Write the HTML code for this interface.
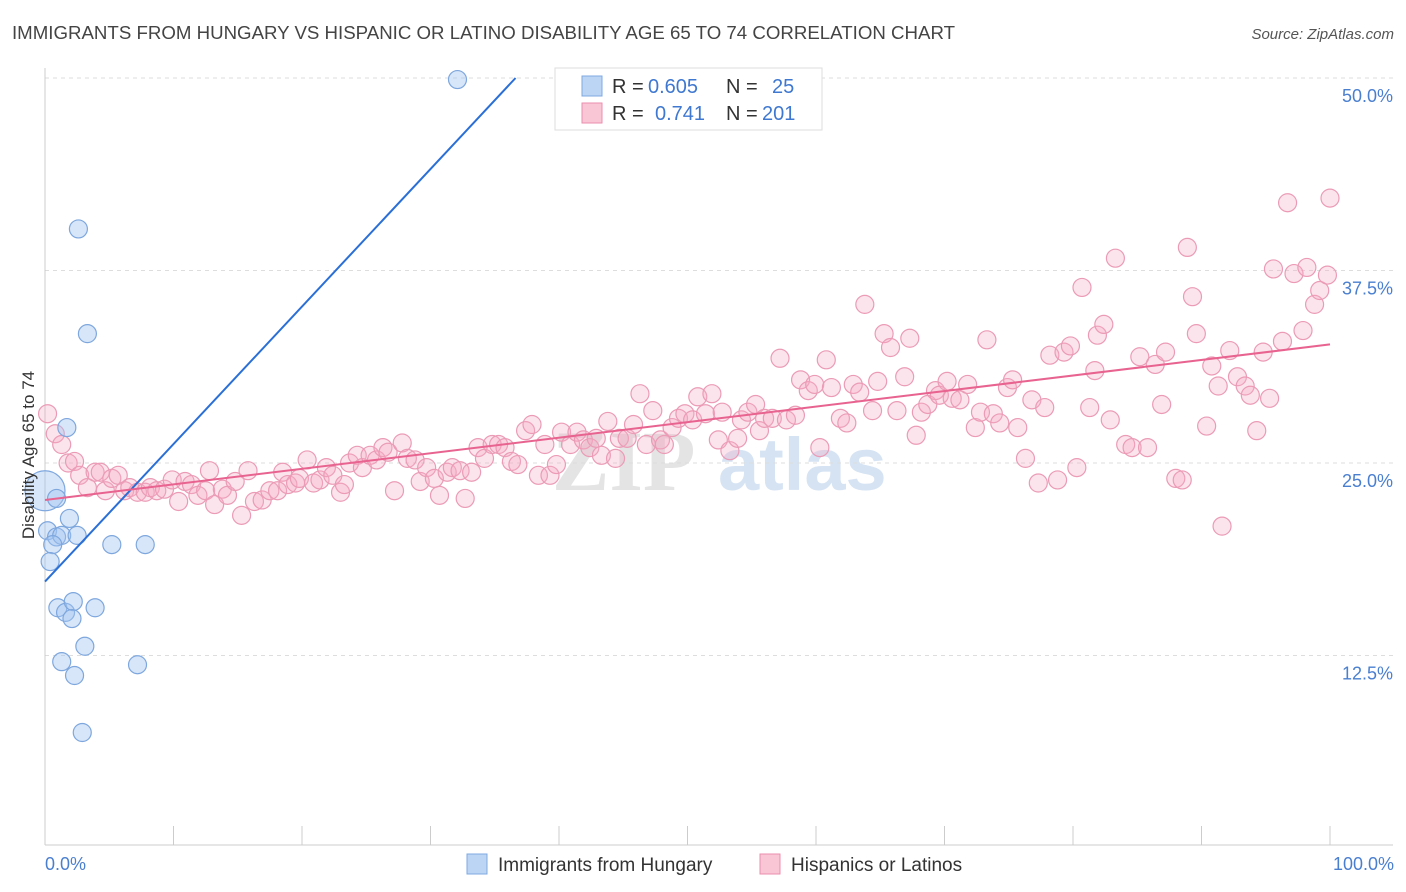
<!DOCTYPE html>
<html><head><meta charset="utf-8">
<style>
body{margin:0;background:#fff;font-family:"Liberation Sans",sans-serif;}
svg{display:block}
</style></head>
<body>
<svg id="chart" width="1406" height="892">
<text x="12" y="39" font-size="18" fill="#444" textLength="943" lengthAdjust="spacingAndGlyphs">IMMIGRANTS FROM HUNGARY VS HISPANIC OR LATINO DISABILITY AGE 65 TO 74 CORRELATION CHART</text>
<text x="1394" y="39" font-size="15" fill="#555" font-style="italic" text-anchor="end">Source: ZipAtlas.com</text>
<g>
<text x="552" y="490" font-size="86" font-family="Liberation Serif,serif" fill="#e4e4e4" font-weight="bold">ZIP</text>
<text x="718" y="490" font-size="74" fill="#d6e3f3" font-weight="bold">atlas</text>
</g>
<g id="grid"></g>
<g id="axes"></g>
<g id="pts"></g>
<g id="lines"></g>
<text transform="translate(34,455) rotate(-90)" font-size="17" fill="#333" text-anchor="middle">Disability Age 65 to 74</text>
<text x="45" y="870" font-size="18" fill="#4a7fd0">0.0%</text>
<text x="1394" y="870" font-size="18" fill="#4a7fd0" text-anchor="end">100.0%</text>
<g>
<rect x="555" y="68" width="267" height="62" fill="#fff" stroke="#ddd"/>
<rect x="582" y="76" width="20" height="20" fill="#bcd5f5" stroke="#7fa9e0"/>
<rect x="582" y="103" width="20" height="20" fill="#f9c6d6" stroke="#eb8fae"/>
<text x="612" y="93" font-size="20" fill="#333">R =</text>
<text x="648" y="93" font-size="20" fill="#3f78d0">0.605</text>
<text x="726" y="93" font-size="20" fill="#333">N =</text>
<text x="772" y="93" font-size="20" fill="#3f78d0">25</text>
<text x="612" y="120" font-size="20" fill="#333">R =</text>
<text x="655" y="120" font-size="20" fill="#3f78d0">0.741</text>
<text x="726" y="120" font-size="20" fill="#333">N =</text>
<text x="762" y="120" font-size="20" fill="#3f78d0">201</text>
</g>
<g>
<rect x="467" y="854" width="20" height="20" fill="#bcd5f5" stroke="#7fa9e0"/>
<text x="498" y="871" font-size="19" fill="#333">Immigrants from Hungary</text>
<rect x="760" y="854" width="20" height="20" fill="#f9c6d6" stroke="#eb8fae"/>
<text x="791" y="871" font-size="19" fill="#333">Hispanics or Latinos</text>
</g>
</svg>
<script>
const yTicks=[12.5,25,37.5,50];
const yTickLabels=["12.5%","25.0%","37.5%","50.0%"];
const xTicks=[0,10,20,30,40,50,60,70,80,90,100];
const blueX=[0,0.9,1.7,2.6,3.3,0.2,0.9,1.3,0.6,2.5,1.9,0.4,5.2,7.8,1.0,1.6,2.2,3.9,2.1,3.1,1.3,2.3,7.2,2.9,32.1];
const blueY=[23.2,22.7,27.3,40.2,33.4,20.6,20.2,20.3,19.7,20.3,21.4,18.6,19.7,19.7,15.6,15.3,16.0,15.6,14.9,13.1,12.1,11.2,11.9,7.5,49.9];
const blueR=[20,9,9,9,9,9,9,9,9,9,9,9,9,9,9,9,9,9,9,9,9,9,9,9,9];
const pinkX=[0.2,0.8,1.3,1.8,2.3,2.7,3.3,3.9,4.3,4.7,5.2,5.7,6.2,6.6,7.2,7.8,8.2,8.7,9.3,9.9,10.4,10.9,11.4,11.9,12.5,12.8,13.2,13.8,14.2,14.8,15.3,15.8,16.3,16.9,17.5,18.1,18.5,18.9,19.5,19.8,20.4,20.9,21.4,21.9,22.4,23.0,23.3,23.7,24.3,24.7,25.3,25.8,26.3,26.7,27.2,27.8,28.2,28.8,29.2,29.7,30.3,30.7,31.3,31.7,32.3,32.7,33.2,33.7,34.2,34.8,35.3,35.8,36.3,36.8,37.4,37.9,38.4,38.9,39.3,39.8,40.2,40.9,41.4,41.9,42.4,42.9,43.3,43.8,44.4,44.7,45.3,45.8,46.3,46.8,47.3,47.9,48.2,48.8,49.3,49.8,50.4,50.8,51.4,51.9,52.4,52.7,53.3,53.9,54.2,54.7,55.3,55.6,56.0,56.6,57.2,57.7,58.4,58.8,59.4,59.9,60.3,60.8,61.2,61.9,62.4,62.9,63.4,63.8,64.4,64.8,65.3,65.8,66.3,66.9,67.3,67.8,68.2,68.7,69.3,69.6,70.2,70.6,71.2,71.8,72.4,72.8,73.3,73.8,74.3,74.9,75.3,75.7,76.3,76.8,77.3,77.8,78.2,78.8,79.3,79.8,80.3,80.7,81.3,81.7,81.9,82.4,82.9,83.3,84.1,84.6,85.2,85.8,86.4,86.9,87.2,88.0,88.5,88.9,89.3,89.6,90.4,90.8,91.3,91.6,92.2,92.8,93.4,93.8,94.3,94.8,95.3,95.6,96.3,96.7,97.2,97.9,98.2,98.8,99.2,99.8,100.0];
const pinkY=[28.2,26.9,26.2,25.0,25.1,24.2,23.4,24.4,24.4,23.2,24.0,24.2,23.2,23.4,23.1,23.1,23.4,23.2,23.3,23.9,22.5,23.8,23.6,22.9,23.2,24.5,22.3,23.3,22.9,23.8,21.6,24.5,22.5,22.6,23.2,23.2,24.4,23.6,23.7,24.0,25.2,23.7,23.9,24.7,24.2,23.1,23.6,25.0,25.5,24.7,25.5,25.2,26.0,25.7,23.2,26.3,25.3,25.2,23.8,24.7,24.0,22.9,24.4,24.7,24.5,22.7,24.4,26.0,25.3,26.2,26.2,26.0,25.1,24.9,27.1,27.5,24.2,26.2,24.2,24.9,27.0,26.2,27.0,26.5,26.0,26.6,25.5,27.7,25.3,26.6,26.6,27.5,29.5,26.2,28.4,26.5,26.2,27.3,27.9,28.2,27.8,29.3,28.2,29.5,26.5,28.3,25.8,26.6,27.8,28.3,28.8,27.1,27.9,27.9,31.8,27.8,28.1,30.4,29.7,30.1,26.0,31.7,29.9,27.9,27.6,30.1,29.6,35.3,28.4,30.3,33.4,32.5,28.4,30.6,33.1,26.8,28.3,28.8,29.7,29.4,30.3,29.2,29.1,30.1,27.3,28.3,33.0,28.2,27.6,29.9,30.4,27.3,25.3,29.1,23.7,28.6,32.0,23.9,32.2,32.6,24.7,36.4,28.6,31.0,33.3,34.0,27.8,38.3,26.2,26.0,31.9,26.0,31.4,28.8,32.2,24.0,23.9,39.0,35.8,33.4,27.4,31.3,30.0,20.9,32.3,30.6,30.0,29.4,27.1,32.2,29.2,37.6,32.9,41.9,37.3,33.6,37.7,35.3,36.2,37.2,42.2];
const blueLine=[17.3,0.893];
const pinkLine=[22.6,0.101];

const X0=45,X1=1330,Y0=848,PX=(X1-X0)/100,PY=15.4;
const sx=v=>X0+v*PX, sy=v=>Y0-v*PY;
const NS="http://www.w3.org/2000/svg";
function mk(tag,attrs,parent){const e=document.createElementNS(NS,tag);for(const k in attrs)e.setAttribute(k,attrs[k]);parent.appendChild(e);return e;}
const grid=document.getElementById('grid'),axes=document.getElementById('axes'),pts=document.getElementById('pts'),lines=document.getElementById('lines');
yTicks.forEach((t,i)=>{
  const g=mk('line',{x1:X0,x2:1393,y1:sy(t),y2:sy(t),stroke:'#ddd','stroke-dasharray':'4 4'},grid);
  
  
  const l=mk('text',{x:1393,y:sy(t)+24,'font-size':18,fill:'#4a7fd0','text-anchor':'end'},grid);
  l.textContent=yTickLabels[i];
  
  
});
const xa=mk('line',{x1:X0,x2:1393,y1:845,y2:845,stroke:'#ccc'},axes);


const ya=mk('line',{x1:X0,x2:X0,y1:68,y2:845,stroke:'#ccc'},axes);


xTicks.forEach(t=>{
  const tk=mk('line',{x1:sx(t),x2:sx(t),y1:826,y2:845,stroke:'#ccc'},axes);
  
  
});
pinkX.forEach((x,i)=>{
  const c=mk('circle',{cx:sx(x),cy:sy(pinkY[i]),r:9,fill:'rgba(245,170,195,0.32)',stroke:'#eb9bb6','stroke-width':1.2},pts);
  
  
});
blueX.forEach((x,i)=>{
  const c=mk('circle',{cx:sx(x),cy:sy(blueY[i]),r:blueR[i],fill:'rgba(160,195,240,0.42)',stroke:'#7ea7de','stroke-width':1.2},pts);
  
  
});
const bxEnd=(50-blueLine[0])/blueLine[1];
const bl=mk('line',{x1:sx(0),y1:sy(blueLine[0]),x2:sx(bxEnd),y2:sy(50),stroke:'#2a6fd6','stroke-width':2},lines);


const pl=mk('line',{x1:sx(0),y1:sy(pinkLine[0]),x2:sx(100),y2:sy(pinkLine[0]+100*pinkLine[1]),stroke:'#e8638f','stroke-width':2},lines);


</script>
</body></html>
